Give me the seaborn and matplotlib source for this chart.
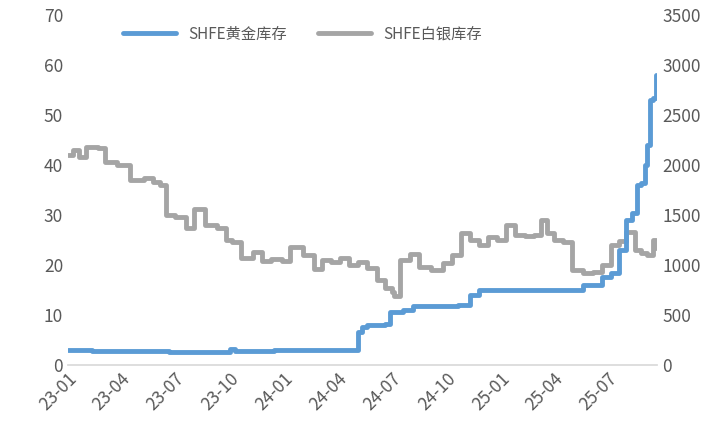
import matplotlib
matplotlib.use("Agg")
import matplotlib.pyplot as plt
import matplotlib.dates as mdates
import seaborn as sns
import pandas as pd

sns.set_theme(style="white")
plt.rcParams['font.family'] = ['Noto Sans CJK SC', 'DejaVu Sans']

gold_dates = ["2023-01-01","2023-02-10","2023-06-20","2023-10-01","2023-10-10","2023-10-20","2023-12-15",
              "2024-04-28","2024-05-05","2024-05-12","2024-05-20","2024-06-20","2024-06-28","2024-07-20","2024-08-05",
              "2024-10-01","2024-10-20","2024-11-10","2024-11-25","2025-04-01","2025-05-20","2025-06-20","2025-07-05",
              "2025-07-20","2025-08-01","2025-08-10","2025-08-18","2025-08-25","2025-09-01","2025-09-05","2025-09-10","2025-09-15","2025-09-20"]
gold_vals = [3.0,2.7,2.5,3.2,2.8,2.8,3.0,
             3.0,6.5,7.5,8.0,8.2,10.5,11.0,11.8,
             11.8,12.0,14.0,15.0,15.0,16.0,17.5,18.5,
             23.0,29.0,30.5,36.0,36.5,40.0,44.0,53.0,53.5,58.0]

silver_dates = ["2023-01-01","2023-01-10","2023-01-20","2023-02-01","2023-02-20","2023-03-05","2023-03-25","2023-04-15",
                "2023-05-10","2023-05-25","2023-06-05","2023-06-15","2023-07-01","2023-07-20","2023-08-01","2023-08-20",
                "2023-09-10","2023-09-25","2023-10-05","2023-10-20","2023-11-10","2023-11-25","2023-12-10","2023-12-28",
                "2024-01-10","2024-02-01","2024-02-20","2024-03-05","2024-03-20","2024-04-05","2024-04-20","2024-05-05",
                "2024-05-20","2024-06-05","2024-06-20","2024-07-01","2024-07-05","2024-07-15","2024-08-01","2024-08-15",
                "2024-09-05","2024-09-25","2024-10-10","2024-10-25","2024-11-10","2024-11-25","2024-12-10","2024-12-25",
                "2025-01-10","2025-01-25","2025-02-10","2025-02-25","2025-03-10","2025-03-20","2025-04-01","2025-04-15",
                "2025-05-01","2025-05-20","2025-06-05","2025-06-20","2025-07-05","2025-07-20","2025-08-01","2025-08-15",
                "2025-08-25","2025-09-05","2025-09-15","2025-09-20"]
silver_vals = [2100,2150,2080,2180,2170,2030,2000,1850,
               1870,1830,1800,1500,1480,1370,1560,1400,
               1370,1250,1230,1070,1130,1040,1060,1040,
               1180,1100,960,1050,1030,1070,1000,1030,
               970,850,770,730,690,1050,1110,980,
               950,1020,1100,1320,1250,1200,1280,1250,
               1400,1300,1290,1300,1450,1320,1250,1230,
               950,920,930,1000,1200,1240,1330,1150,
               1120,1100,1250,1170]

gold = pd.DataFrame({"date": pd.to_datetime(gold_dates), "val": gold_vals})
silver = pd.DataFrame({"date": pd.to_datetime(silver_dates), "val": silver_vals})

fig, ax = plt.subplots(figsize=(7.16, 4.37), dpi=100)
ax2 = ax.twinx()
sns.lineplot(data=gold, x="date", y="val", ax=ax, color="#5B9BD5", lw=3.5, drawstyle="steps-post", label="SHFE黄金库存", legend=False)
sns.lineplot(data=silver, x="date", y="val", ax=ax2, color="#A5A5A5", lw=3.5, drawstyle="steps-post", label="SHFE白银库存", legend=False)
ax2.set_zorder(0); ax.set_zorder(1); ax.patch.set_visible(False)

ax.set_ylim(0, 70); ax.set_yticks(range(0, 71, 10))
ax2.set_ylim(0, 3500); ax2.set_yticks(range(0, 3501, 500))
ax.set_xlim(pd.Timestamp("2023-01-01"), pd.Timestamp("2025-09-22"))
ax.xaxis.set_major_locator(mdates.MonthLocator(bymonth=[1,4,7,10]))
ax.xaxis.set_major_formatter(mdates.DateFormatter("%y-%m"))
for lab in ax.get_xticklabels():
    lab.set_rotation(45); lab.set_ha("right"); lab.set_rotation_mode("anchor")
ax.set_xlabel(""); ax.set_ylabel(""); ax2.set_ylabel("")
for a in (ax, ax2):
    a.tick_params(labelsize=12.5, colors="#595959", length=0)
    for s in a.spines.values():
        s.set_visible(False)
ax.spines["bottom"].set_visible(True); ax.spines["bottom"].set_color("#D9D9D9")

h1, l1 = ax.get_legend_handles_labels()
h2, l2 = ax2.get_legend_handles_labels()
ax.legend(h1 + h2, l1 + l2, loc="upper left", bbox_to_anchor=(0.07, 1.01), ncol=2, frameon=False,
          fontsize=11, labelcolor="#595959", handlelength=3.5, columnspacing=2)

fig.subplots_adjust(left=0.095, right=0.918, top=0.965, bottom=0.165)
fig.savefig("out.png", dpi=100)
